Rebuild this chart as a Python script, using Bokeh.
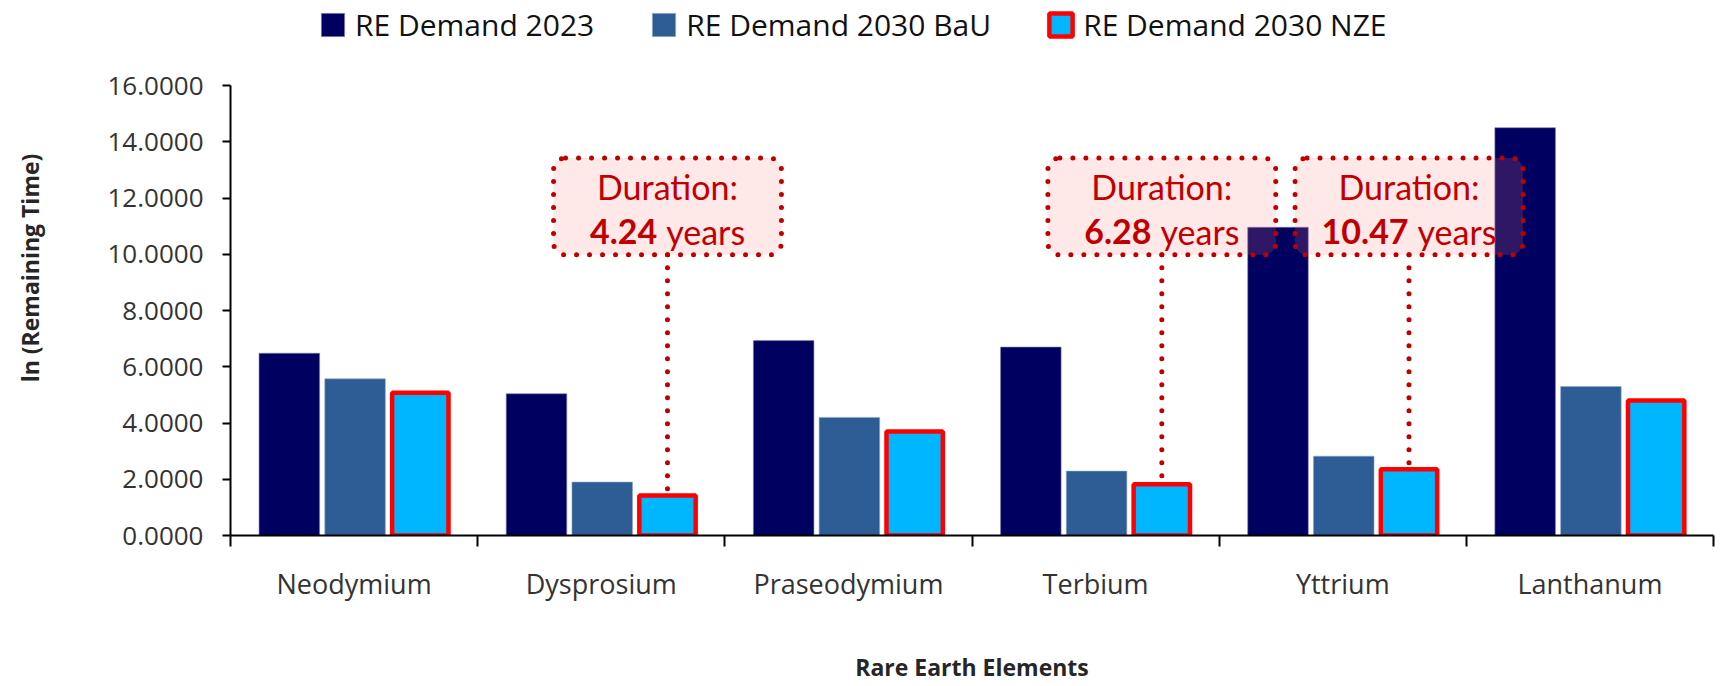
import numpy as np
from bokeh.plotting import figure
from bokeh.models import (Range1d, FixedTicker, NumeralTickFormatter, Legend, LegendItem,
                          ColumnDataSource)
from bokeh.core.properties import value
from bokeh.transform import dodge
from bokeh.embed import file_html
from bokeh.resources import INLINE

# ---- data ----
elements = ["Neodymium", "Dysprosium", "Praseodymium", "Terbium", "Yttrium", "Lanthanum"]
demand_2023 = [6.48, 5.04, 6.93, 6.70, 10.96, 14.50]
demand_2030_bau = [5.57, 1.90, 4.20, 2.29, 2.82, 5.30]
demand_2030_nze = [5.08, 1.42, 3.70, 1.82, 2.36, 4.80]
series_names = ["RE Demand 2023", "RE Demand 2030 BaU", "RE Demand 2030 NZE"]
y_ticks = [0, 2, 4, 6, 8, 10, 12, 14, 16]
annotated = ["Dysprosium", "Terbium", "Yttrium"]
durations = ["4.24", "6.28", "10.47"]

# ---- style ----
C2023 = "#000060"
CBAU = "#2E5D95"
CNZE = "#00B7FF"
RED = "#C00000"
TICK_FONT = "Open Sans"

Y_MAX = 16
FRAME_H = 450  # pixel height of the 0..16 axis
y_end = Y_MAX * (FRAME_H + 85) / FRAME_H  # extra room above the axis for the legend

xc = [i + 0.5 for i in range(len(elements))]
src = ColumnDataSource(dict(x=xc, a=demand_2023, b=demand_2030_bau, c=demand_2030_nze))

p = figure(width=1720, height=686, output_backend="svg", toolbar_location=None,
           x_range=Range1d(0, len(elements)), y_range=Range1d(0, y_end),
           min_border_left=230, min_border_right=7, min_border_top=0,
           min_border_bottom=151)
p.background_fill_color = "white"
p.border_fill_color = "white"
p.outline_line_color = None
p.xgrid.grid_line_color = None
p.ygrid.grid_line_color = None

off = [-0.262, 0.004, 0.268]
r1 = p.vbar(x=dodge("x", off[0], range=p.x_range), top="a", width=0.245, source=src,
            fill_color=C2023, line_color="#7A7FB0", line_width=0.6)
r2 = p.vbar(x=dodge("x", off[1], range=p.x_range), top="b", width=0.245, source=src,
            fill_color=CBAU, line_color="#8FA6C6", line_width=0.6)
r3 = p.vbar(x=dodge("x", off[2], range=p.x_range), top="c", width=0.228, source=src,
            fill_color=CNZE, line_color="#FF0000", line_width=4.5)

# ---- annotations ----
idx = [elements.index(e) for e in annotated]
ax = [i + 0.5 + off[2] for i in idx]
atop = [demand_2030_nze[i] for i in idx]
box_cy = 11.7
box_hh = 1.72
box_hw = 0.461
FS = 34
num_w = [(sum(0.25 if ch == "." else 0.58 for ch in d)) * FS for d in durations]
years_w = 2.33 * FS
gap = 9
asrc = ColumnDataSource(dict(
    x=ax, left=[v - box_hw for v in ax], right=[v + box_hw for v in ax],
    top=[box_cy + box_hh] * len(ax), bottom=[box_cy - box_hh] * len(ax),
    ytop=atop, num=durations,
    numx=[(nw - years_w) / 2 - gap / 2 for nw in num_w],
    yrx=[(nw - years_w) / 2 + gap / 2 for nw in num_w],
))
p.segment(x0="x", y0="bottom", x1="x", y1="ytop", source=asrc, line_color=RED,
          line_width=5, line_dash="0 13", line_cap="round")
p.quad(left="left", right="right", top="top", bottom="bottom", source=asrc,
       fill_color="#FF8080", fill_alpha=0.18, line_color=RED, line_width=5,
       line_dash="0 13", line_cap="round", border_radius=12)
p.text(x="x", y=box_cy, text=value("Duration:"), source=asrc, text_color=RED,
       text_font=value("Lato"), text_font_size=f"{FS}px", text_align="center",
       text_baseline="alphabetic", y_offset=-20)
p.text(x="x", y=box_cy, text="num", source=asrc, text_color=RED,
       text_font=value("Lato"), text_font_style="bold", text_font_size=f"{FS}px",
       text_align="right", text_baseline="alphabetic", y_offset=25, x_offset="numx")
p.text(x="x", y=box_cy, text=value("years"), source=asrc, text_color=RED,
       text_font=value("Lato"), text_font_size=f"{FS}px", text_align="left",
       text_baseline="alphabetic", y_offset=25, x_offset="yrx")

# ---- axes ----
xa = p.xaxis[0]
xa.ticker = FixedTicker(ticks=xc, minor_ticks=list(range(len(elements) + 1)))
xa.major_label_overrides = {v: e for v, e in zip(xc, elements)}
xa.major_tick_line_color = None
xa.minor_tick_in = 0
xa.minor_tick_out = 11
xa.minor_tick_line_color = "black"
xa.minor_tick_line_width = 2
xa.axis_line_color = "black"
xa.axis_line_width = 2
xa.major_label_text_font = TICK_FONT
xa.major_label_text_font_size = "27px"
xa.major_label_text_color = "#333333"
xa.major_label_standoff = 18
xa.axis_label = "Rare Earth Elements"
xa.axis_label_text_font = TICK_FONT
xa.axis_label_text_font_size = "23px"
xa.axis_label_text_font_style = "bold"
xa.axis_label_text_color = "#262626"
xa.axis_label_standoff = 46

ya = p.yaxis[0]
ya.bounds = (0, Y_MAX)
ya.ticker = FixedTicker(ticks=y_ticks)
ya.formatter = NumeralTickFormatter(format="0.0000")
ya.minor_tick_line_color = None
ya.major_tick_in = 0
ya.major_tick_out = 8
ya.major_tick_line_width = 2
ya.major_tick_line_color = "black"
ya.axis_line_color = "black"
ya.axis_line_width = 2
ya.major_label_text_font = TICK_FONT
ya.major_label_text_font_size = "26px"
ya.major_label_text_color = "#333333"
ya.major_label_standoff = 19
ya.axis_label = "ln (Remaining Time)"
ya.axis_label_text_font = TICK_FONT
ya.axis_label_text_font_size = "23px"
ya.axis_label_text_font_style = "bold"
ya.axis_label_text_color = "#262626"
ya.axis_label_standoff = 58

# ---- legend ----
legend = Legend(items=[LegendItem(label=n, renderers=[r]) for n, r in zip(series_names, [r1, r2, r3])],
                orientation="horizontal", location=(88, 490),
                glyph_width=29, glyph_height=29, label_height=21, label_standoff=8,
                spacing=55, padding=0, margin=0, border_line_color=None,
                background_fill_alpha=0,
                label_text_font=TICK_FONT, label_text_font_size="30px",
                label_text_color="#111111")
p.add_layout(legend)

open("out.html", "w").write(file_html(p, INLINE))
